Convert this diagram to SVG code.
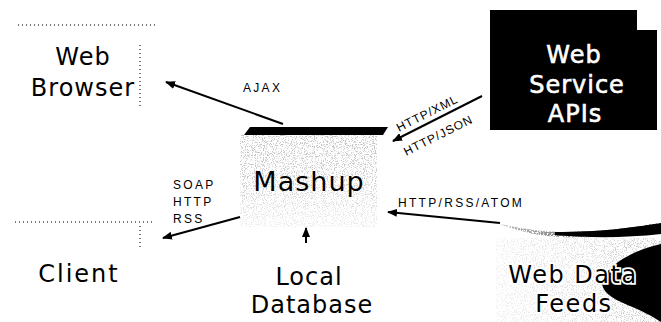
<svg xmlns="http://www.w3.org/2000/svg" width="661" height="322" viewBox="0 0 661 322">
<style>
.big{font-family:"DejaVu Sans","Liberation Sans",sans-serif;font-size:24px;fill:#000;letter-spacing:1px}
.wt{font-family:"DejaVu Sans","Liberation Sans",sans-serif;font-size:24px;fill:#fff;stroke:#fff;stroke-width:0.6;letter-spacing:1px}
.halo{stroke:#fff;stroke-width:3.5;paint-order:stroke;letter-spacing:1.5px}
.sm{font-family:"Liberation Sans",Arial,sans-serif;font-size:12px;fill:#000;letter-spacing:2.3px}
.rot{letter-spacing:1px}
.con{stroke:#000;stroke-width:2;fill:none;marker-end:url(#ah)}
.dots{stroke:#777;stroke-width:2;stroke-dasharray:1 3;fill:none}
</style>
<defs>
<marker id="ah" viewBox="0 0 10 10" refX="9" refY="5" markerWidth="5" markerHeight="5" orient="auto-start-reverse" markerUnits="strokeWidth">
<path d="M0,1 L10,5 L0,9 z" fill="#000"/>
</marker>
<filter id="speckle" x="0" y="0" width="100%" height="100%">
<feTurbulence type="fractalNoise" baseFrequency="0.9" numOctaves="2" seed="4" result="n"/>
<feColorMatrix in="n" type="matrix" values="0 0 0 0 0.55  0 0 0 0 0.55  0 0 0 0 0.55  0 0 0 7 -3.6" result="s"/>
<feComposite in="s" in2="SourceGraphic" operator="in"/>
</filter>
<filter id="speckleDark" x="0" y="0" width="100%" height="100%">
<feTurbulence type="fractalNoise" baseFrequency="0.8" numOctaves="2" seed="9" result="n"/>
<feColorMatrix in="n" type="matrix" values="0 0 0 0 0  0 0 0 0 0  0 0 0 0 0  0 0 0 8 -3" result="s"/>
<feComposite in="s" in2="SourceGraphic" operator="in"/>
</filter>
<linearGradient id="mg" x1="0" y1="0" x2="0" y2="1">
<stop offset="0" stop-color="#000" stop-opacity="1"/>
<stop offset="0.5" stop-color="#000" stop-opacity="0.8"/>
<stop offset="1" stop-color="#000" stop-opacity="0.3"/>
</linearGradient>
<linearGradient id="fg" x1="0" y1="0" x2="1" y2="0">
<stop offset="0" stop-color="#000" stop-opacity="0.25"/>
<stop offset="0.6" stop-color="#000" stop-opacity="0.6"/>
<stop offset="1" stop-color="#000" stop-opacity="1"/>
</linearGradient>
</defs>
<rect width="661" height="322" fill="#fff"/>

<g id="web-browser">
<line class="dots" x1="18" y1="25" x2="158" y2="25"/>
<line class="dots" x1="140" y1="45" x2="140" y2="106"/>
<text class="big" x="83" y="65" text-anchor="middle">Web</text>
<text class="big" x="83" y="96" text-anchor="middle">Browser</text>
</g>

<g id="web-service-apis">
<polygon points="490,10 637,10 637,30 657,30 657,130 490,130" fill="#000"/>
<text class="wt" x="574" y="63" text-anchor="middle">Web</text>
<text class="wt" x="577" y="93" text-anchor="middle">Service</text>
<text class="wt" x="575" y="122" text-anchor="middle">APIs</text>
</g>

<g id="mashup">
<rect x="240" y="135" width="137" height="92" fill="url(#mg)" filter="url(#speckle)"/>
<polygon points="250,127 388,127 383,135 244,135" fill="#000"/>
<text class="big" x="309" y="191" text-anchor="middle" style="font-size:27px">Mashup</text>
</g>

<g id="client">
<line class="dots" x1="15" y1="222" x2="155" y2="222"/>
<line class="dots" x1="140" y1="226" x2="140" y2="250"/>
<text class="big" x="79" y="282" text-anchor="middle" style="letter-spacing:2px">Client</text>
</g>

<g id="local-database">
<text class="big" x="309" y="285" text-anchor="middle">Local</text>
<text class="big" x="312" y="313" text-anchor="middle">Database</text>
</g>

<g id="web-data-feeds">
<rect x="496" y="238" width="165" height="84" fill="url(#fg)" filter="url(#speckle)"/>
<path d="M500,224 C530,230 545,232 560,232 C600,232 630,228 661,223 L661,232 C620,236 590,238 560,237 C540,236 520,232 500,224 z" fill="url(#fg)" filter="url(#speckleDark)"/>
<path d="M555,232 C600,232 630,228 661,223 L661,234 C625,238 590,238 555,235 z" fill="#000"/>
<path d="M661,244 C635,250 612,262 603,278 C598,292 615,300 630,306 C645,312 655,318 661,322 Z" fill="#000"/>
<text class="big halo" x="573" y="283" text-anchor="middle">Web Data</text>
<text class="big halo" x="574" y="312" text-anchor="middle">Feeds</text>
</g>

<g id="connectors">
<line class="con" x1="283" y1="124" x2="166" y2="82"/>
<text class="sm" x="243" y="92">AJAX</text>
<line class="con" x1="482" y1="96" x2="393" y2="141"/>
<text class="sm rot" transform="translate(429,117) rotate(-26.6)" text-anchor="middle">HTTP/XML</text>
<text class="sm rot" transform="translate(440,139) rotate(-26.6)" text-anchor="middle">HTTP/JSON</text>
<line class="con" x1="240" y1="217" x2="163" y2="238"/>
<text class="sm" x="173" y="189">SOAP</text>
<text class="sm" x="173" y="206">HTTP</text>
<text class="sm" x="173" y="223">RSS</text>
<line class="con" x1="306" y1="243" x2="306" y2="228"/>
<line class="con" x1="500" y1="223" x2="388" y2="212"/>
<text class="sm" x="398" y="207">HTTP/RSS/ATOM</text>
</g>
</svg>
